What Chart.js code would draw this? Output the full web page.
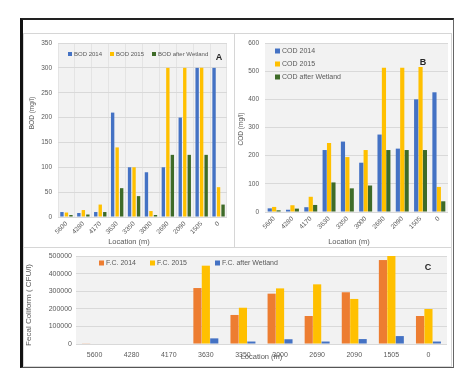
<!DOCTYPE html>
<html>
<head>
<meta charset="utf-8">
<script src="https://cdn.jsdelivr.net/npm/chart.js@4.4.0/dist/chart.umd.min.js"></script>
<style>
  body { margin: 0; background: #fff; width: 473px; height: 374px; position: relative; overflow: hidden; }
  #frame { position: absolute; left: 20px; top: 18px; width: 430px; height: 347px;
           border-left: 3px solid #111; border-top: 2px solid #222; border-right: 1px solid #666; border-bottom: 1px solid #555; }
  .panel { position: absolute; border: 1px solid #d6d6d6; box-sizing: border-box; }
  canvas { position: absolute; }
</style>
</head>
<body>
<div id="frame"></div>
<div class="panel" style="left:23px; top:33px; width:212px; height:215px;"></div>
<div class="panel" style="left:234px; top:33px; width:218px; height:215px;"></div>
<div class="panel" style="left:23px; top:247px; width:429px; height:120px;"></div>
<canvas id="chartA" width="212" height="214" style="left:22px; top:33px;"></canvas>
<canvas id="chartB" width="218" height="214" style="left:234px; top:33px;"></canvas>
<canvas id="chartC" width="430" height="120" style="left:22px; top:247px;"></canvas>
<script>
'use strict';

// data
const locations = ['5600', '4280', '4170', '3630', '3350', '3000', '2690', '2090', '1505', '0'];

const bod2014 = [10, 8, 10, 210, 100, 90, 100, 200, 300, 300];
const bod2015 = [9, 14, 25, 140, 100, 12, 300, 300, 300, 60];
const bodWetland = [4, 5, 10, 58, 42, 4, 125, 125, 125, 25];
const bodTicks = [0, 50, 100, 150, 200, 250, 300, 350];

const cod2014 = [13, 8, 17, 220, 250, 175, 275, 225, 400, 425];
const cod2015 = [18, 24, 54, 245, 195, 220, 512, 512, 515, 89];
const codWetland = [6, 12, 25, 105, 84, 94, 220, 220, 220, 38];
const codTicks = [0, 100, 200, 300, 400, 500, 600];

const fc2014 = [2000, 0, 0, 318000, 165000, 286000, 159000, 294000, 477000, 159000];
const fc2015 = [3000, 0, 0, 445000, 206000, 316000, 339000, 256000, 500000, 199000];
const fcWetland = [0, 0, 0, 32000, 14000, 27000, 14000, 28000, 45000, 14000];
const fcTicks = [0, 100000, 200000, 300000, 400000, 500000];

const colBlue = '#4472C4';
const colYellow = '#FFC000';
const colGreen = '#3E6B28';
const colOrange = '#ED7D31';
const textGray = '#595959';
const fontFamily = "'Liberation Sans', Arial, sans-serif";

// plot background, legend inside the plot, axis titles and panel letter
function makeDeco(cfg) {
  return {
    id: 'deco',
    beforeDraw(chart) {
      let a = chart.chartArea;
      let ctx = chart.ctx;
      ctx.save();
      ctx.fillStyle = '#f2f2f2';
      ctx.fillRect(a.left, a.top, a.right - a.left, a.bottom - a.top);
      ctx.restore();
    },
    afterDraw(chart) {
      let ctx = chart.ctx;
      let a = chart.chartArea;
      ctx.save();
      ctx.textBaseline = 'middle';
      ctx.textAlign = 'left';
      ctx.font = cfg.legendSize + 'px ' + fontFamily;
      chart.data.datasets.forEach((ds, i) => {
        let x = cfg.legendX[i];
        let y = cfg.legendY[i];
        ctx.fillStyle = ds.backgroundColor;
        ctx.fillRect(x, y - cfg.box / 2, cfg.box, cfg.box);
        ctx.fillStyle = textGray;
        ctx.fillText(ds.label, x + cfg.box + 2, y);
      });
      ctx.textAlign = 'center';
      ctx.fillStyle = textGray;
      ctx.font = cfg.titleSize + 'px ' + fontFamily;
      let tx = cfg.xTitle[0] === null ? (a.left + a.right) / 2 : cfg.xTitle[0];
      ctx.fillText('Location (m)', tx, cfg.xTitle[1]);
      ctx.save();
      ctx.translate(cfg.yTitle[0], cfg.yTitle[1]);
      ctx.rotate(-Math.PI / 2);
      ctx.font = cfg.yTitleSize + 'px ' + fontFamily;
      ctx.fillText(cfg.yText, 0, 0);
      ctx.restore();
      ctx.fillStyle = '#262626';
      ctx.font = 'bold 9px ' + fontFamily;
      ctx.fillText(cfg.letter, cfg.letterPos[0], cfg.letterPos[1]);
      ctx.restore();
    }
  };
}

function makeChart(id, sets, ax, deco) {
  let ctx = document.getElementById(id);
  let config = {
    type: 'bar',
    data: {
      labels: locations,
      datasets: sets.map(s => ({
        label: s.label,
        data: s.data,
        backgroundColor: s.color,
        borderWidth: 0,
        categoryPercentage: ax.catPct,
        barPercentage: ax.barPct
      }))
    },
    options: {
      responsive: false,
      animation: false,
      devicePixelRatio: 1,
      layout: { padding: ax.padding },
      plugins: { legend: { display: false }, tooltip: { enabled: false } },
      scales: {
        x: {
          grid: { display: ax.xGrid, color: '#e4e4e4', drawTicks: false },
          border: { display: false },
          ticks: {
            autoSkip: false,
            minRotation: ax.rotation,
            maxRotation: ax.rotation,
            padding: ax.xPad,
            color: textGray,
            font: { family: fontFamily, size: ax.tickSize }
          },
          afterFit: s => { s.height = ax.xHeight; }
        },
        y: {
          min: 0,
          max: ax.ticks[ax.ticks.length - 1],
          afterBuildTicks: s => { s.ticks = ax.ticks.map(v => ({ value: v })); },
          grid: { color: '#d9d9d9', drawTicks: false },
          border: { display: false },
          ticks: {
            padding: ax.yPad,
            color: textGray,
            font: { family: fontFamily, size: ax.tickSize },
            callback: v => String(v)
          },
          afterFit: s => { s.width = ax.yWidth; }
        }
      }
    },
    plugins: [makeDeco(deco)]
  };
  return new Chart(ctx, config);
}

makeChart('chartA', [
  { label: 'BOD 2014', data: bod2014, color: colBlue },
  { label: 'BOD 2015', data: bod2015, color: colYellow },
  { label: 'BOD after Wetland', data: bodWetland, color: colGreen }
], {
  catPct: 0.8, barPct: 0.75, padding: { top: 10, right: 7, left: 0, bottom: 0 },
  xGrid: true, rotation: 45, xPad: 3, tickSize: 6.5, xHeight: 30,
  ticks: bodTicks, yPad: 6, yWidth: 36
}, {
  legendSize: 6, box: 4, legendX: [46, 88, 130], legendY: [21, 21, 21],
  titleSize: 7.5, xTitle: [107, 209], yText: 'BOD (mg/l)', yTitle: [10, 80], yTitleSize: 6.5,
  letter: 'A', letterPos: [197, 25]
});

makeChart('chartB', [
  { label: 'COD 2014', data: cod2014, color: colBlue },
  { label: 'COD 2015', data: cod2015, color: colYellow },
  { label: 'COD after Wetland', data: codWetland, color: colGreen }
], {
  catPct: 0.72, barPct: 0.95, padding: { top: 10, right: 4, left: 0, bottom: 0 },
  xGrid: false, rotation: 45, xPad: 3, tickSize: 6.5, xHeight: 35,
  ticks: codTicks, yPad: 6, yWidth: 31
}, {
  legendSize: 7, box: 5, legendX: [41, 41, 41], legendY: [18, 31, 44],
  titleSize: 7.5, xTitle: [115, 209], yText: 'COD (mg/l)', yTitle: [7, 96], yTitleSize: 6.5,
  letter: 'B', letterPos: [189, 30]
});

makeChart('chartC', [
  { label: 'F.C. 2014', data: fc2014, color: colOrange },
  { label: 'F.C. 2015', data: fc2015, color: colYellow },
  { label: 'F.C. after Wetland', data: fcWetland, color: colBlue }
], {
  catPct: 0.68, barPct: 0.97, padding: { top: 9, right: 5, left: 0, bottom: 0 },
  xGrid: false, rotation: 0, xPad: 7, tickSize: 7, xHeight: 23,
  ticks: fcTicks, yPad: 4, yWidth: 54
}, {
  legendSize: 7, box: 5, legendX: [77, 128, 193], legendY: [16, 16, 16],
  titleSize: 7.5, xTitle: [null, 110], yText: 'Fecal Coliform ( CFU/l)', yTitle: [7, 58], yTitleSize: 8,
  letter: 'C', letterPos: [406, 21]
});
</script>
</body>
</html>
